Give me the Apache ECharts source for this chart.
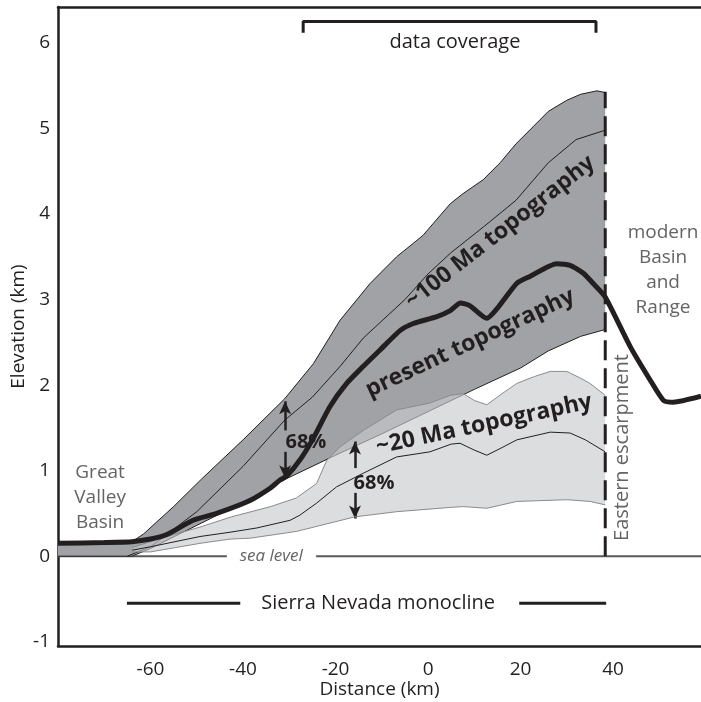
<!DOCTYPE html>
<html><head><meta charset="utf-8">
<script src="https://cdn.jsdelivr.net/npm/echarts@6/dist/echarts.min.js"></script>
<style>html,body{margin:0;padding:0;background:#fff}#c{width:701px;height:702px}</style>
</head><body><div id="c"></div>
<script>
// ---- data (km) ----
const xTicks = [-60, -40, -20, 0, 20, 40];
const yTicks = [-1, 0, 1, 2, 3, 4, 5, 6];

const presentTopo = [[-80,0.15],[-70,0.16],[-64,0.17],[-60,0.2],[-56.6,0.25],[-50.8,0.42],[-45.7,0.5],[-38.5,0.65],[-34,0.8],[-32,0.89],[-30.5,0.94],[-27.5,1.14],[-24.8,1.38],[-21.2,1.75],[-17.6,2.02],[-14,2.22],[-10.4,2.41],[-6,2.64],[-3.2,2.72],[1.9,2.8],[4.8,2.87],[7,2.96],[9,2.93],[12.7,2.78],[15,2.9],[19.2,3.19],[22,3.27],[27.8,3.42],[30.7,3.4],[33.5,3.31],[36,3.17],[38.3,3.03],[43.7,2.45],[48,2.06],[50.9,1.82],[53,1.8],[59,1.87]];

const ma100Upper = [[-80,0.15],[-64,0.17],[-61.5,0.26],[-55,0.58],[-49,0.9],[-40,1.36],[-31,1.84],[-24.8,2.25],[-19,2.76],[-12.5,3.19],[-6.8,3.5],[-1.1,3.75],[4.8,4.12],[7.6,4.24],[11.9,4.4],[15.6,4.6],[19,4.82],[22.7,5.02],[26,5.2],[30,5.33],[33,5.4],[36.5,5.44],[38.3,5.42]];
const ma100Mid = [[-65,0.0],[-60,0.11],[-50,0.52],[-40,1.05],[-31,1.59],[-25,1.86],[-19,2.22],[-14,2.55],[-5,3.0],[0,3.3],[5,3.55],[12,3.85],[19,4.16],[26,4.6],[32,4.87],[38.3,4.98]];
const ma100Lower = [[-80,0],[-64,0],[-60,0.09],[-50,0.36],[-40,0.63],[-32,0.87],[-20,1.18],[-10,1.43],[0,1.69],[10,1.95],[20,2.2],[26,2.4],[33,2.57],[38.3,2.65]];

const ma20Upper = [[-64,0.1],[-60,0.17],[-56.5,0.23],[-49.3,0.34],[-42.5,0.46],[-34,0.58],[-28.5,0.68],[-24.1,0.85],[-21.9,1.12],[-19,1.28],[-14,1.47],[-6.8,1.71],[0.4,1.79],[4.8,1.88],[7.6,1.9],[10,1.82],[12.7,1.77],[16,1.9],[19.2,2.02],[23,2.1],[26.4,2.16],[30,2.16],[33,2.08],[35,2.02],[38.3,1.88]];
const ma20Mid = [[-64,0.07],[-60,0.11],[-49.3,0.23],[-42.8,0.28],[-37,0.33],[-29.8,0.42],[-27.7,0.48],[-24.1,0.62],[-19.8,0.81],[-14,0.97],[-6.8,1.16],[0.4,1.22],[5,1.31],[6.9,1.32],[10,1.24],[12.7,1.18],[16,1.27],[19.2,1.36],[26.4,1.45],[30.7,1.44],[34,1.36],[38.3,1.22]];
const ma20Lower = [[-64,0.05],[-60,0.05],[-49.3,0.15],[-42.8,0.2],[-38.5,0.21],[-28.4,0.29],[-15.8,0.46],[-6.8,0.52],[4.8,0.57],[7.6,0.58],[12.7,0.56],[19.2,0.64],[30,0.66],[35,0.64],[38.3,0.6]];

const escarpmentX = 38.3;
const escarpmentTop = 5.43;
const seaLevelLeft = [[-80,0],[-43.5,0]];
const seaLevelRight = [[-24.2,0],[59,0]];
const monoclineLeft = [[-65.1,-0.55],[-40.6,-0.55]];
const monoclineRight = [[19.7,-0.55],[38.5,-0.55]];
const coverageBracket = [[-27,6.12],[-27,6.25],[36.3,6.25],[36.3,6.12]];
// 68% arrows: [x, top tip, upper segment end, lower segment start, bottom tip]
const arrows68 = [[-30.9,1.81,1.47,1.22,0.91],[-15.8,1.34,1.03,0.74,0.44]];

// ---- annotation text (km coords) ----
const FONT = '"Open Sans", "Noto Sans", sans-serif';
const DARK = '#231f20', GREY = '#636466';
const labels = [
  {t:'data coverage', x:5.8, y:6.01, rot:0, f:'20px', c:DARK},
  {t:'Sierra Nevada monocline', x:-10.8, y:-0.55, rot:0, f:'20px', c:DARK},
  {t:'Great\nValley\nBasin', x:-70.9, y:0.68, rot:0, f:'19px', c:GREY, lh:25},
  {t:'modern\nBasin\nand\nRange', x:50.8, y:3.35, rot:0, f:'19px', c:GREY, lh:25},
  {t:'Eastern escarpment', x:41.9, y:1.27, rot:90, f:'20px', c:GREY},
  {t:'sea level', x:-33.9, y:0.0, rot:0, f:'italic 17px', c:GREY},
  {t:'~100 Ma topography', x:15.6, y:3.79, rot:38, f:'bold 23px', c:DARK},
  {t:'present topography', x:9.1, y:2.49, rot:25, f:'bold 23px', c:DARK},
  {t:'~20 Ma topography', x:12.1, y:1.54, rot:12, f:'bold 23px', c:DARK},
  {t:'68%', x:-26.4, y:1.33, rot:0, f:'bold 20px', c:DARK},
  {t:'68%', x:-11.7, y:0.85, rot:0, f:'bold 20px', c:DARK}
];

const chart = echarts.init(document.getElementById('c'), null, {renderer:'canvas'});

function band(upper, lower, fill, z) {
  return {
    type:'custom', coordinateSystem:'cartesian2d', z:z, silent:true,
    data:[upper[0]],
    renderItem:function(params, api){
      const pts = upper.map(p=>api.coord(p)).concat(lower.slice().reverse().map(p=>api.coord(p)));
      return {type:'polygon', shape:{points:pts}, style:{fill:fill}};
    }
  };
}
function line(data, color, width, z, extra) {
  return Object.assign({
    type:'line', data:data, showSymbol:false, symbol:'none', silent:true, z:z,
    lineStyle:{color:color, width:width}, smooth:false
  }, extra||{});
}

const arrowMark = [];
arrows68.forEach(a=>{
  arrowMark.push([{coord:[a[0],a[2]]},{coord:[a[0],a[1]]}]);
  arrowMark.push([{coord:[a[0],a[3]]},{coord:[a[0],a[4]]}]);
});

const axisText = {color:DARK, fontSize:19, fontFamily:FONT};
const option = {
  animation:false,
  backgroundColor:'#fff',
  grid:{left:58, top:7, right:0, bottom:56, containLabel:false, outerBoundsMode:'none'},
  xAxis:[{
    type:'value', min:-80, max:59, position:'bottom',
    axisLine:{show:true, onZero:false, lineStyle:{color:DARK, width:2.5}},
    axisTick:{show:false}, splitLine:{show:false},
    axisLabel:Object.assign({customValues:xTicks, margin:14}, axisText),
    name:'Distance (km)', nameLocation:'middle', nameGap:34, nameMoveOverlap:false,
    nameTextStyle:axisText
  },{
    type:'value', min:-80, max:59, position:'top',
    axisLine:{show:true, onZero:false, lineStyle:{color:DARK, width:2.5}},
    axisTick:{show:false}, splitLine:{show:false}, axisLabel:{show:false}
  }],
  yAxis:{
    type:'value', min:-1.05, max:6.42,
    axisLine:{show:true, onZero:false, lineStyle:{color:DARK, width:2.5}},
    axisTick:{show:false}, splitLine:{show:false},
    axisLabel:Object.assign({customValues:yTicks, margin:8}, axisText),
    name:'Elevation (km)', nameLocation:'middle', nameGap:30, nameMoveOverlap:false,
    nameTextStyle:axisText
  },
  series:[
    line(seaLevelLeft, '#58595b', 2, 1),
    line(seaLevelRight, '#58595b', 2, 1),
    band(ma100Upper, ma100Lower, '#a1a2a5', 2),
    line(ma100Upper, '#231f20', 1, 3),
    line(ma100Lower, '#231f20', 1, 3),
    line(ma100Mid, '#231f20', 1, 3),
    band(ma20Upper, ma20Lower, 'rgba(200,201,204,0.63)', 4),
    line(ma20Upper, '#8a8b8d', 1, 5),
    line(ma20Lower, '#8a8b8d', 1, 5),
    line(ma20Mid, '#231f20', 1, 5),
    line(presentTopo, '#231f20', 5, 6, {smooth:0.2}),
    line([[escarpmentX,0],[escarpmentX,escarpmentTop]], '#231f20', 3, 7, {lineStyle:{color:'#231f20', width:3, type:[20,8]}}),
    line(monoclineLeft, '#231f20', 3, 7),
    line(monoclineRight, '#231f20', 3, 7),
    line(coverageBracket, '#231f20', 3, 7),
    {type:'line', data:[], z:8, silent:true,
     markLine:{silent:true, symbol:['none','arrow'], symbolSize:[9,13], label:{show:false},
       lineStyle:{color:DARK, width:2.5, type:'solid'}, data:arrowMark}}
  ]
};
chart.setOption(option);

const g = labels.map(a=>{
  const p = chart.convertToPixel({gridIndex:0}, [a.x, a.y]);
  return {type:'text', x:p[0], y:p[1], rotation:a.rot*Math.PI/180, z:100, silent:true,
    style:{text:a.t, font:a.f+' '+FONT, fill:a.c, align:'center', verticalAlign:'middle',
      lineHeight:a.lh||undefined, backgroundColor: a.t==='sea level'||a.t==='Sierra Nevada monocline' ? '#fff' : undefined}};
});
chart.setOption({graphic:g});
</script>
</body></html>
